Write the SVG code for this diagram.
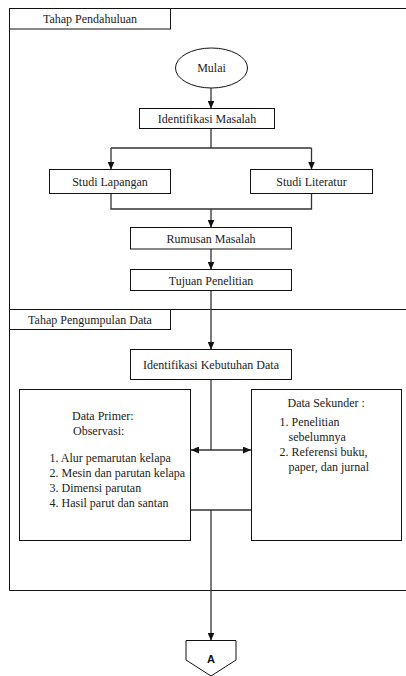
<svg xmlns="http://www.w3.org/2000/svg" width="406" height="676" viewBox="0 0 406 676">
  <defs>
    <style>
      .frame { fill: none; stroke: #111; stroke-width: 1; }
      .box { fill: #fff; stroke: #111; stroke-width: 1; }
      .conn { fill: none; stroke: #333; stroke-width: 1.3; }
      .t { font-family: "Liberation Serif", Tinos, "DejaVu Serif", serif; font-size: 12px; fill: #222; }
      .c { text-anchor: middle; }
      .ref { font-family: "Liberation Sans", Arial, sans-serif; font-size: 11px; font-weight: bold; fill: #111; text-anchor: middle; }
    </style>
    <marker id="arrow" viewBox="0 0 8 7" refX="8" refY="3.5" markerWidth="8" markerHeight="7" markerUnits="userSpaceOnUse" orient="auto-start-reverse">
      <path d="M0,0 L8,3.5 L0,7 z" fill="#111"/>
    </marker>
  </defs>

  <rect width="406" height="676" fill="#fff"/>

  <!-- swimlane frame -->
  <g id="lanes">
    <path class="frame" d="M9.5,8.5 H406 M9.5,8.5 V590.5 M9.5,309.5 H406 M9.5,590.5 H406"/>
    <g id="lane-pendahuluan">
      <rect class="box" x="9.5" y="8.5" width="161" height="20.5"/>
      <text class="t c" x="90" y="23">Tahap Pendahuluan</text>
    </g>
    <g id="lane-pengumpulan">
      <rect class="box" x="9.5" y="309.5" width="161" height="20"/>
      <text class="t c" x="90" y="324">Tahap Pengumpulan Data</text>
    </g>
  </g>

  <!-- connectors -->
  <g id="connectors">
    <path class="conn" d="M211,88 V108.5" marker-end="url(#arrow)"/>
    <path class="conn" d="M211,128.5 V148 M111,148 H311.5"/>
    <path class="conn" d="M111,148 V169.5" marker-end="url(#arrow)"/>
    <path class="conn" d="M311.5,148 V169.5" marker-end="url(#arrow)"/>
    <path class="conn" d="M111,193.5 V209 H311.5 V193.5"/>
    <path class="conn" d="M211,209 V227.5" marker-end="url(#arrow)"/>
    <path class="conn" d="M211,249 V269.5" marker-end="url(#arrow)"/>
    <path class="conn" d="M211,290.5 V349.5" marker-end="url(#arrow)"/>
    <path class="conn" d="M211,379.5 V450"/>
    <path class="conn" d="M191,450 H251" marker-start="url(#arrow)" marker-end="url(#arrow)"/>
    <path class="conn" d="M190.5,510 H251.5"/>
    <path class="conn" d="M211,510 V640.5" marker-end="url(#arrow)"/>
  </g>

  <g id="mulai">
    <ellipse class="box" cx="211.5" cy="68" rx="36" ry="20"/>
    <text class="t c" x="211.5" y="72">Mulai</text>
  </g>

  <g id="identifikasi-masalah">
    <rect class="box" x="139.5" y="108.5" width="135" height="20"/>
    <text class="t c" x="207" y="122.5">Identifikasi Masalah</text>
  </g>

  <g id="studi-lapangan">
    <rect class="box" x="49.5" y="169.5" width="121" height="24"/>
    <text class="t c" x="110" y="185.5">Studi Lapangan</text>
  </g>

  <g id="studi-literatur">
    <rect class="box" x="250.5" y="169.5" width="122" height="24"/>
    <text class="t c" x="311.5" y="185.5">Studi Literatur</text>
  </g>

  <g id="rumusan-masalah">
    <rect class="box" x="130.5" y="227.5" width="161" height="21.5"/>
    <text class="t c" x="211" y="242.5">Rumusan Masalah</text>
  </g>

  <g id="tujuan-penelitian">
    <rect class="box" x="130.5" y="269.5" width="161" height="21"/>
    <text class="t c" x="211" y="284.5">Tujuan Penelitian</text>
  </g>

  <g id="identifikasi-kebutuhan">
    <rect class="box" x="130.5" y="349.5" width="161" height="30"/>
    <text class="t c" x="211" y="368.5">Identifikasi Kebutuhan Data</text>
  </g>

  <g id="data-primer">
    <rect class="box" x="19.5" y="389.5" width="171" height="151"/>
    <text class="t" x="72" y="420">Data Primer:</text>
    <text class="t" x="73" y="435">Observasi:</text>
    <text class="t" x="49.5" y="461.5">1. Alur pemarutan kelapa</text>
    <text class="t" x="49.5" y="476.5">2. Mesin dan parutan kelapa</text>
    <text class="t" x="49.5" y="491.5">3. Dimensi parutan</text>
    <text class="t" x="49.5" y="506.5">4. Hasil parut dan santan</text>
  </g>

  <g id="data-sekunder">
    <rect class="box" x="251.5" y="389.5" width="150" height="151"/>
    <text class="t" x="287.5" y="406.5">Data Sekunder :</text>
    <text class="t" x="279.5" y="425.5">1. Penelitian</text>
    <text class="t" x="288.5" y="440.5">sebelumnya</text>
    <text class="t" x="279.5" y="455.5">2. Referensi buku,</text>
    <text class="t" x="288.5" y="470.5">paper, dan jurnal</text>
  </g>

  <g id="offpage-a">
    <polygon class="box" points="186,640.5 236,640.5 236,660 211,676 186,660"/>
    <text class="ref" x="211" y="663">A</text>
  </g>
</svg>
